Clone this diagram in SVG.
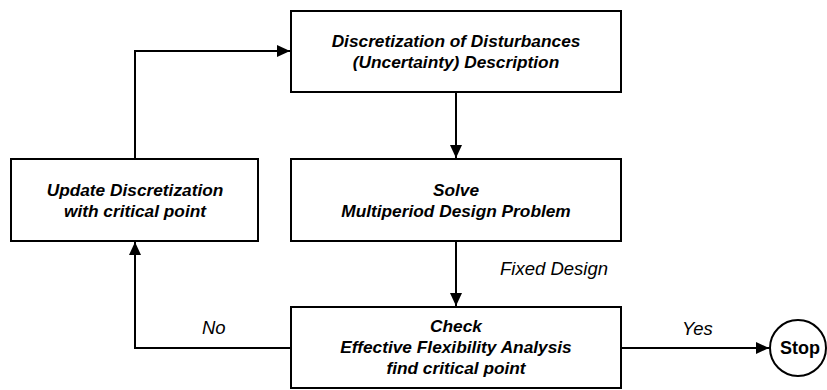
<svg xmlns="http://www.w3.org/2000/svg" width="827" height="390" viewBox="0 0 827 390">
<defs>
<marker id="ah" markerWidth="13" markerHeight="12" refX="13" refY="6" orient="auto" markerUnits="userSpaceOnUse">
<path d="M0,0 L13,6 L0,12 Z" fill="#000"/>
</marker>
<style>
.box{fill:#fff;stroke:#000;stroke-width:2}
.t{font-family:"Liberation Sans",Arial,sans-serif;font-size:17.3px;font-weight:bold;font-style:italic;text-anchor:middle;fill:#000}
.l{font-family:"Liberation Sans",Arial,sans-serif;font-size:18.5px;font-style:italic;fill:#000}
.c{fill:none;stroke:#000;stroke-width:2}
</style>
</defs>
<g id="connectors">
<path class="c" d="M135,159 V51 H290" marker-end="url(#ah)"/>
<path class="c" d="M456,92 V158" marker-end="url(#ah)"/>
<path class="c" d="M456,241 V306" marker-end="url(#ah)"/>
<path class="c" d="M291,348 H135 V242" marker-end="url(#ah)"/>
<path class="c" d="M621,348 H769" marker-end="url(#ah)"/>
<text class="l" x="500" y="275">Fixed Design</text>
<text class="l" x="202" y="334">No</text>
<text class="l" x="682" y="335">Yes</text>
</g>
<g id="discretization">
<rect class="box" x="291" y="11" width="330" height="81"/>
<text class="t" x="456" y="47">Discretization of Disturbances</text>
<text class="t" x="456" y="68">(Uncertainty) Description</text>
</g>
<g id="solve">
<rect class="box" x="291" y="159" width="330" height="82"/>
<text class="t" x="456" y="196">Solve</text>
<text class="t" x="456" y="217">Multiperiod Design Problem</text>
</g>
<g id="update">
<rect class="box" x="11" y="159" width="247" height="82"/>
<text class="t" x="135" y="196">Update Discretization</text>
<text class="t" x="135" y="217">with critical point</text>
</g>
<g id="check">
<rect class="box" x="291" y="307" width="330" height="81"/>
<text class="t" x="456" y="332">Check</text>
<text class="t" x="456" y="353">Effective Flexibility Analysis</text>
<text class="t" x="456" y="374">find critical point</text>
</g>
<g id="stop">
<circle class="box" cx="798" cy="348" r="28"/>
<text class="t" x="800" y="354" style="font-style:normal;font-size:18px">Stop</text>
</g>
</svg>
